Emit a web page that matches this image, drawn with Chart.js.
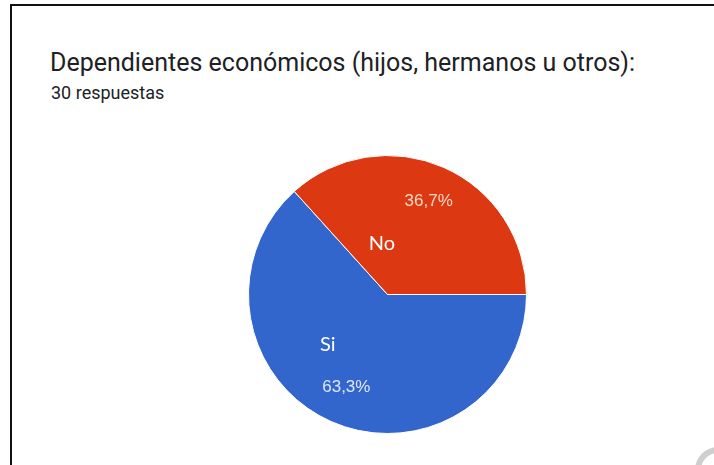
<!DOCTYPE html>
<html>
<head>
<meta charset="utf-8">
<script src="https://cdn.jsdelivr.net/npm/chart.js@4"></script>
<style>
  html, body { margin: 0; padding: 0; background: #fff; }
  body { width: 714px; height: 465px; position: relative; overflow: hidden; }
  #frame { position: absolute; left: 10px; top: 4px; width: 720px; height: 480px;
           border-left: 2px solid #111; border-top: 2px solid #111; }
  #title { position: absolute; left: 50px; top: 48px; font-family: Roboto, sans-serif;
           font-size: 25px; color: #202124; white-space: nowrap; line-height: normal; }
  #sub { position: absolute; left: 51px; top: 82px; font-family: Roboto, sans-serif;
         font-size: 18px; color: #202124; white-space: nowrap; line-height: normal; }
  #ring { position: absolute; left: 695px; top: 447px; width: 46px; height: 46px;
          box-sizing: border-box; border: 6px solid #cfcfcf; border-radius: 50%; }
  #wrap { position: absolute; left: 0; top: 0; width: 714px; height: 465px; }
</style>
</head>
<body>
<div id="frame"></div>
<div id="title">Dependientes económicos (hijos, hermanos u otros):</div>
<div id="sub">30 respuestas</div>
<div id="wrap"><canvas id="c"></canvas></div>
<div id="ring"></div>
<script>
const categories = ["Si", "No"];
const values = [63.3, 36.7];
const percentLabels = ["63,3%", "36,7%"];
const colors = ["#3366cc", "#dc3912"];
const percentColors = ["#dfe7f8", "#f8d6c6"];

// manual offsets (relative to pie centre, in radii) for the overlaid category names
const nameOffsets = [[-0.43, 0.36], [-0.04, -0.37]];

const labelPlugin = {
  id: 'sliceLabels',
  afterDatasetsDraw(chart) {
    const ctx = chart.ctx;
    const meta = chart.getDatasetMeta(0);
    meta.data.forEach((arc, i) => {
      const mid = (arc.startAngle + arc.endAngle) / 2;
      const r = arc.outerRadius;
      ctx.save();
      ctx.textAlign = 'center';
      ctx.textBaseline = 'middle';
      ctx.fillStyle = percentColors[i];
      ctx.font = '17px "Liberation Sans", Arial, sans-serif';
      ctx.fillText(percentLabels[i], arc.x + Math.cos(mid) * r * 0.73, arc.y + Math.sin(mid) * r * 0.73);
      ctx.fillStyle = '#ffffff';
      ctx.font = '20px Lato, sans-serif';
      ctx.fillText(categories[i], arc.x + nameOffsets[i][0] * r, arc.y + nameOffsets[i][1] * r);
      ctx.restore();
    });
  }
};

new Chart(document.getElementById('c'), {
  type: 'pie',
  data: {
    labels: categories,
    datasets: [{
      data: values,
      backgroundColor: colors,
      borderColor: '#ffffff',
      borderWidth: 1,
      hoverOffset: 0
    }]
  },
  options: {
    responsive: true,
    maintainAspectRatio: false,
    animation: false,
    rotation: 90,
    layout: { padding: { left: 248, right: 187, top: 155, bottom: 31 } },
    plugins: {
      legend: { display: false },
      tooltip: { enabled: false },
      title: { display: false }
    }
  },
  plugins: [labelPlugin]
});
</script>
</body>
</html>
